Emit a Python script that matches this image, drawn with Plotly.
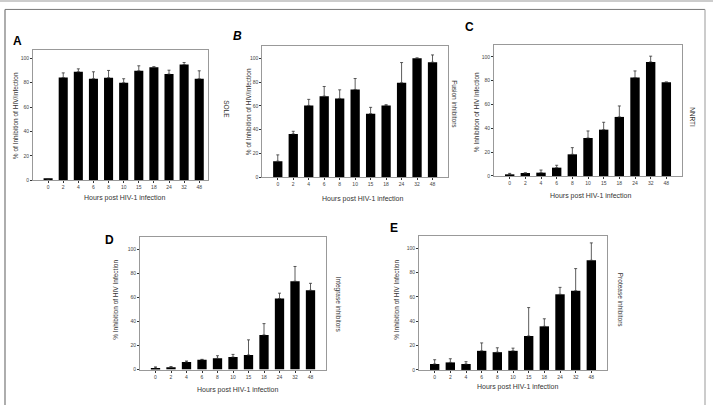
import plotly.graph_objects as go

W, H = 713, 408

hours = ["0", "2", "4", "6", "8", "10", "15", "18", "24", "32", "48"]

# Panel A (SOLE)
a_val = [1.0, 84.2, 88.9, 83.2, 84.0, 79.9, 89.7, 92.7, 87.0, 94.8, 83.2]
a_err = [0.0, 3.8, 2.4, 5.7, 6.0, 3.3, 4.1, 0.3, 3.2, 1.7, 6.5]
# Panel B (Fusion inhibitors)
b_val = [13.6, 36.5, 60.4, 68.2, 66.3, 73.8, 53.5, 60.4, 79.4, 100.0, 96.7]
b_err = [5.3, 2.2, 5.1, 8.1, 7.2, 9.2, 5.3, 0.6, 17.0, 0.3, 6.1]
# Panel C (NNRTI)
c_val = [1.4, 2.5, 2.8, 7.0, 18.2, 31.9, 38.9, 49.6, 82.6, 95.8, 78.7]
c_err = [0.8, 0.1, 2.2, 2.0, 5.6, 5.9, 6.2, 9.2, 5.6, 4.8, 0.2]
# Panel D (Integrase inhibitors)
d_val = [1.4, 1.9, 6.3, 8.2, 9.3, 10.4, 12.1, 28.8, 59.1, 73.4, 65.9]
d_err = [0.8, 0.6, 0.8, 0.3, 2.2, 2.2, 12.6, 9.4, 4.4, 12.3, 5.8]
# Panel E (Protease inhibitors)
e_val = [4.9, 6.2, 4.9, 15.7, 14.6, 15.7, 27.9, 35.8, 62.1, 65.0, 90.0]
e_err = [3.5, 3.0, 1.9, 6.5, 3.6, 2.2, 23.3, 6.2, 5.7, 18.2, 14.3]

y_ticks = [0, 20, 40, 60, 80, 100]

FONT = "Arial, Liberation Sans, sans-serif"

# panel geometry in pixels: (left, right, top, bottom), x-range, y-range
panels = [
    dict(val=a_val, err=a_err, box=(33, 208, 50.7, 181.5), xr=[-1, 10.58], yr=[0, 106.5],
         letter="A", lpos=(17, 41), italic=False,
         ytitle="% of Inhibition of HIV/infection", ytpos=(15, 117),
         xtpos=(124, 199),
         side="SOLE", spos=(227, 110)),
    dict(val=b_val, err=b_err, box=(262.3, 448, 46.7, 178.7), xr=[-1, 11], yr=[0, 110],
         letter="B", lpos=(237, 36), italic=True,
         ytitle="% of Inhibition of HIV/infection", ytpos=(248, 113),
         xtpos=(363, 200),
         side="Fusion inhibitors", spos=(455, 105)),
    dict(val=c_val, err=c_err, box=(494, 682, 45.3, 177.3), xr=[-1, 11], yr=[0, 110],
         letter="C", lpos=(469, 27), italic=False,
         ytitle="% Inhibition of HIV Infection", ytpos=(476, 113),
         xtpos=(590, 197),
         side="NNRTI", spos=(693, 118)),
    dict(val=d_val, err=d_err, box=(140, 326, 239, 372.3), xr=[-1, 11], yr=[0, 110],
         letter="D", lpos=(109, 242), italic=False,
         ytitle="% Inhibition of HIV Infection", ytpos=(116, 302),
         xtpos=(237, 393),
         side="Integrase inhibitors", spos=(338, 307)),
    dict(val=e_val, err=e_err, box=(419, 607, 237.7, 372.7), xr=[-1, 11], yr=[0, 110],
         letter="E", lpos=(394, 230), italic=False,
         ytitle="% Inhibition of HIV Infection", ytpos=(397, 302),
         xtpos=(517, 390),
         side="Protease inhibitors", spos=(620, 302)),
]

fig = go.Figure()
annotations = []
layout = {}

def px(x):
    return x / W

def py(y):
    return 1 - y / H

def ann(text, x, y, size, angle=0, color="#333"):
    return dict(text=text, x=px(x), y=py(y), xref="paper", yref="paper",
                showarrow=False, textangle=angle, xanchor="center", yanchor="middle",
                font=dict(size=size, family=FONT, color=color))

for i, p in enumerate(panels):
    n = "" if i == 0 else str(i + 1)
    xa, ya = "x" + n, "y" + n
    idx = list(range(len(hours)))
    fig.add_trace(go.Bar(
        x=idx, y=p["val"], xaxis=xa, yaxis=ya,
        marker=dict(color="black", line=dict(width=0)),
        width=0.6, showlegend=False,
        error_y=dict(type="data", array=p["err"], arrayminus=[0] * len(hours),
                     symmetric=False, color="#333", thickness=0.8, width=1.5),
    ))
    l, r, t, b = p["box"]
    layout["xaxis" + n] = dict(
        domain=[px(l), px(r)], anchor=ya, range=p["xr"],
        tickvals=idx, ticktext=hours, ticks="outside", ticklen=2, tickwidth=0.6,
        tickcolor="#333", showline=True, linecolor="#999", linewidth=1, mirror=True,
        showgrid=False, zeroline=False,
        tickfont=dict(size=5, family=FONT, color="#444"),
    )
    layout["yaxis" + n] = dict(
        domain=[py(b), py(t)], anchor=xa, range=p["yr"],
        tickvals=y_ticks, ticks="outside", ticklen=2, tickwidth=0.6, tickcolor="#333",
        showline=True, linecolor="#999", linewidth=1, mirror=True,
        showgrid=False, zeroline=False,
        tickfont=dict(size=5, family=FONT, color="#444"),
    )
    letter = "<b><i>%s</i></b>" % p["letter"] if p["italic"] else "<b>%s</b>" % p["letter"]
    annotations.append(ann(letter, p["lpos"][0], p["lpos"][1], 12, color="black"))
    annotations.append(ann(p["ytitle"], p["ytpos"][0], p["ytpos"][1], 6.5, angle=-90))
    annotations.append(ann("Hours post HIV-1 infection", p["xtpos"][0], p["xtpos"][1], 7))
    annotations.append(ann(p["side"], p["spos"][0], p["spos"][1], 6.5, angle=90))

shapes = [
    dict(type="line", xref="paper", yref="paper", x0=0, x1=1, y0=py(1), y1=py(1),
         line=dict(color="#cccccc", width=2)),
    dict(type="line", xref="paper", yref="paper", x0=px(5), x1=px(705), y0=py(9.5), y1=py(9.5),
         line=dict(color="#777777", width=1)),
    dict(type="line", xref="paper", yref="paper", x0=px(5), x1=px(5), y0=py(9.5), y1=0,
         line=dict(color="#777777", width=1.2)),
    dict(type="line", xref="paper", yref="paper", x0=px(705), x1=px(705), y0=py(9.5), y1=0,
         line=dict(color="#aaaaaa", width=1.2)),
]

fig.update_layout(
    width=W, height=H, margin=dict(l=0, r=0, t=0, b=0),
    paper_bgcolor="white", plot_bgcolor="white",
    annotations=annotations, shapes=shapes, showlegend=False, bargap=0.4,
    **layout,
)

fig.write_html("out.html")
